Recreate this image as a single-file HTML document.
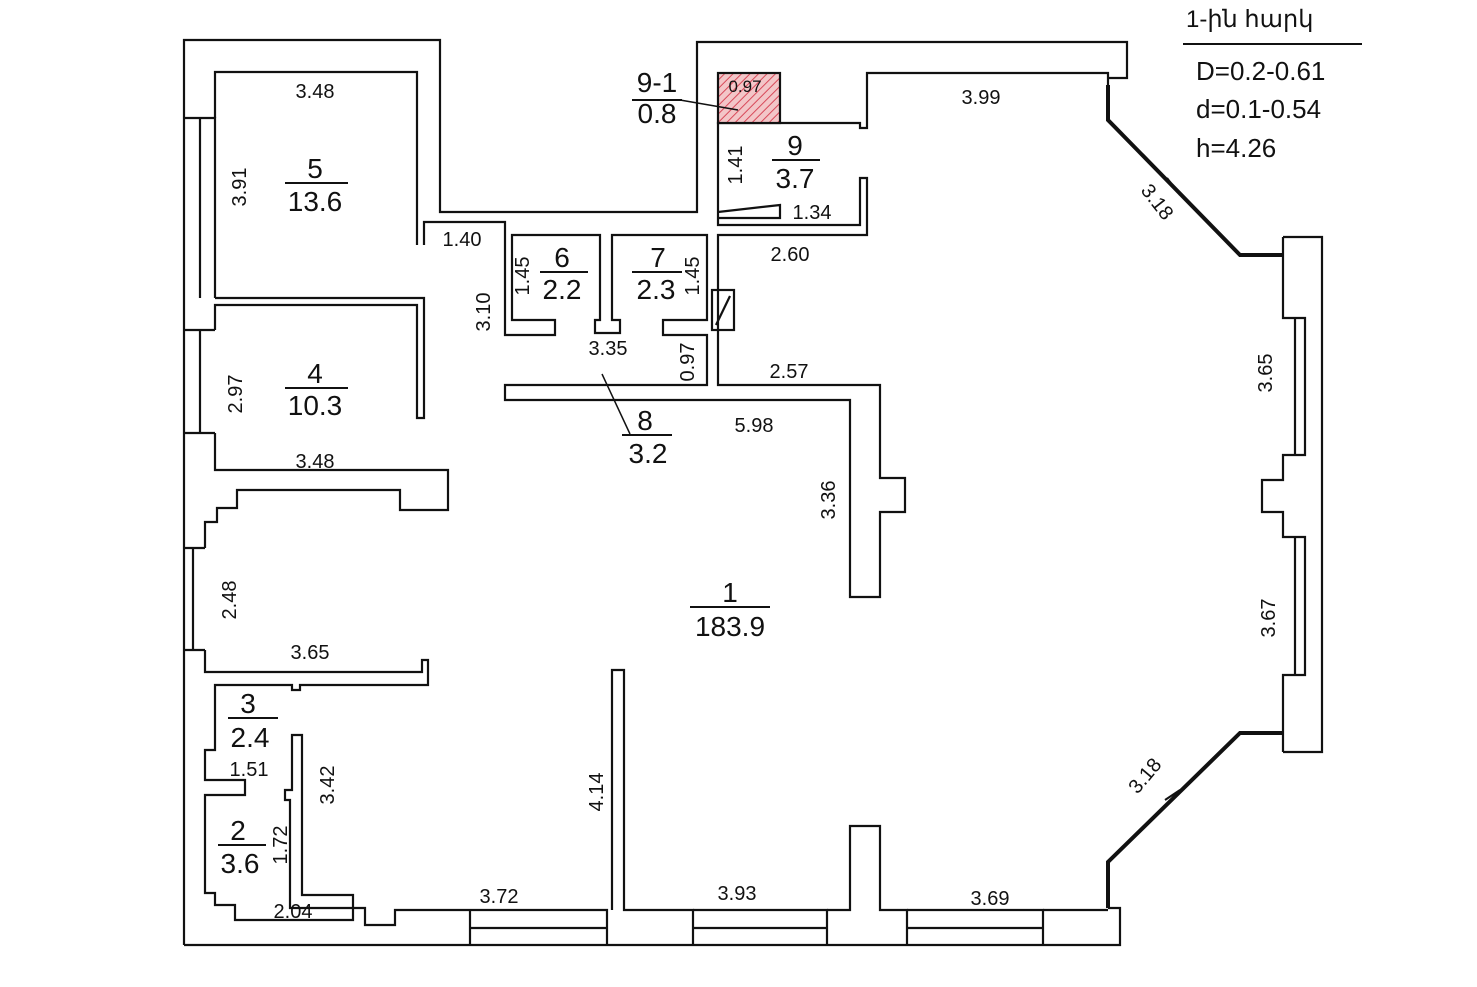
<!DOCTYPE html>
<html><head><meta charset="utf-8"><style>
html,body{margin:0;padding:0;background:#fff;}
svg{display:block}
text{font-family:"Liberation Sans",sans-serif;fill:#111}
</style></head><body>
<svg width="1477" height="987" viewBox="0 0 1477 987" xmlns="http://www.w3.org/2000/svg">
<defs><pattern id="h" width="6" height="6" patternUnits="userSpaceOnUse" patternTransform="rotate(45)"><rect width="6" height="6" fill="#f3c6c8"/><line x1="0" y1="0" x2="0" y2="6" stroke="#d84a5a" stroke-width="2"/></pattern></defs>
<g fill="none" stroke="#111" stroke-width="2.2">
<polyline points="184,945 184,40 440,40 440,212 697,212 697,42 1127,42 1127,78 1108,78"/>
<polyline points="184,945 1120,945 1120,908 1108,908"/>
<polyline points="1283,237 1322,237 1322,752 1283,752"/>
<polyline points="1283,237 1283,318 1305,318 1305,455 1283,455 1283,480 1262,480 1262,512 1283,512 1283,537 1305,537 1305,675 1283,675 1283,752"/>
<line x1="1295" y1="318" x2="1295" y2="455"/><line x1="1295" y1="537" x2="1295" y2="675"/>
<polyline points="215,118 215,72 417,72 417,245"/>
<polyline points="424,245 424,222 505,222 505,335 555,335 555,320 512,320 512,235 600,235 600,320 595,320 595,333 620,333 620,320 612,320 612,235 707,235 707,320 663,320 663,335 707,335 707,385 505,385 505,400 850,400 850,597 880,597 880,512 905,512 905,478 880,478 880,385 718,385 718,235 867,235 867,178 860,178 860,225 718,225 718,123 860,123 860,128 867,128 867,73 1108,73 1108,85"/>
<rect x="718" y="73" width="62" height="50" fill="url(#h)"/>
<polyline points="718,212 780,205 780,218 718,218"/>
<rect x="712" y="290" width="22" height="40"/><line x1="716" y1="325" x2="730" y2="296"/>
<polyline points="184,118 215,118 215,298"/>
<line x1="200" y1="118" x2="200" y2="298"/>
<polyline points="215,298 424,298 424,418 417,418 417,305 215,305 215,330"/>
<line x1="184" y1="330" x2="215" y2="330"/><line x1="200" y1="330" x2="200" y2="433"/><line x1="184" y1="433" x2="215" y2="433"/>
<polyline points="215,433 215,470 448,470 448,510 400,510 400,490 237,490 237,508 217,508 217,522 205,522 205,548"/>
<line x1="184" y1="548" x2="205" y2="548"/><line x1="193" y1="548" x2="193" y2="650"/><line x1="184" y1="650" x2="205" y2="650"/>
<polyline points="205,650 205,672 422,672 422,660 428,660 428,685 300,685 300,690 292,690 292,685 215,685 215,750 205,750 205,780 245,780 245,795 205,795 205,893 215,893 215,905 235,905 235,920 353,920 353,895 302,895 302,735 292,735 292,790 285,790 285,800 290,800 290,908 365,908 365,925 395,925 395,910 470,910"/>
<polyline points="470,910 607,910 607,945"/><polyline points="470,945 470,910"/><line x1="470" y1="928" x2="607" y2="928"/>
<polyline points="612,910 612,670 624,670 624,910 693,910 693,945"/>
<polyline points="693,910 827,910 827,945"/><line x1="693" y1="928" x2="827" y2="928"/>
<polyline points="827,910 850,910 850,826 880,826 880,910 907,910 907,945"/>
<polyline points="907,910 1043,910 1043,945"/><line x1="907" y1="928" x2="1043" y2="928"/>
<polyline points="1043,910 1108,910"/>
</g>
<g stroke="#111" stroke-width="4" fill="none">
<polyline points="1108,85 1108,120 1240,255 1283,255"/>
<polyline points="1108,908 1108,862 1240,733 1283,733"/>
</g>
<line x1="1167" y1="178" x2="1180" y2="195" stroke="#111" stroke-width="2"/>
<line x1="1165" y1="800" x2="1180" y2="790" stroke="#111" stroke-width="2"/>
<line x1="1183" y1="44" x2="1362" y2="44" stroke="#111" stroke-width="2"/>
<line x1="632" y1="100" x2="682" y2="100" stroke="#111" stroke-width="2"/>
<line x1="680" y1="100" x2="738" y2="110" stroke="#111" stroke-width="1.5"/>
<line x1="602" y1="374" x2="630" y2="434" stroke="#111" stroke-width="1.5"/>
<g font-size="24">
<text x="1186" y="27">1-ին հարկ</text>
<text x="1196" y="80" font-size="26">D=0.2-0.61</text>
<text x="1196" y="118" font-size="26">d=0.1-0.54</text>
<text x="1196" y="157" font-size="26">h=4.26</text>
</g>
<g font-size="28" text-anchor="middle">
<text x="315" y="178">5</text><line x1="285" y1="183" x2="348" y2="183" stroke="#111" stroke-width="2"/><text x="315" y="211">13.6</text>
<text x="315" y="383">4</text><line x1="285" y1="388" x2="348" y2="388" stroke="#111" stroke-width="2"/><text x="315" y="415">10.3</text>
<text x="562" y="267">6</text><line x1="540" y1="272" x2="588" y2="272" stroke="#111" stroke-width="2"/><text x="562" y="299">2.2</text>
<text x="658" y="267">7</text><line x1="632" y1="272" x2="682" y2="272" stroke="#111" stroke-width="2"/><text x="656" y="299">2.3</text>
<text x="657" y="92">9-1</text><text x="657" y="123">0.8</text>
<text x="795" y="155">9</text><line x1="772" y1="160" x2="820" y2="160" stroke="#111" stroke-width="2"/><text x="795" y="188">3.7</text>
<text x="645" y="430">8</text><line x1="622" y1="435" x2="672" y2="435" stroke="#111" stroke-width="2"/><text x="648" y="463">3.2</text>
<text x="730" y="602">1</text><line x1="690" y1="607" x2="770" y2="607" stroke="#111" stroke-width="2"/><text x="730" y="636">183.9</text>
<text x="248" y="713">3</text><line x1="228" y1="718" x2="278" y2="718" stroke="#111" stroke-width="2"/><text x="250" y="747">2.4</text>
<text x="238" y="840">2</text><line x1="218" y1="845" x2="266" y2="845" stroke="#111" stroke-width="2"/><text x="240" y="873">3.6</text>
</g>
<g font-size="20" text-anchor="middle">
<text x="315" y="98">3.48</text><text x="462" y="246">1.40</text><text x="812" y="219">1.34</text>
<text x="790" y="261">2.60</text><text x="608" y="355">3.35</text><text x="789" y="378">2.57</text>
<text x="754" y="432">5.98</text><text x="315" y="468">3.48</text><text x="310" y="659">3.65</text>
<text x="249" y="776">1.51</text><text x="293" y="918">2.04</text><text x="499" y="903">3.72</text>
<text x="737" y="900">3.93</text><text x="990" y="905">3.69</text><text x="981" y="104">3.99</text>
<text x="745" y="92" font-size="17">0.97</text>
<text transform="translate(246,187) rotate(-90)">3.91</text>
<text transform="translate(242,394) rotate(-90)">2.97</text>
<text transform="translate(236,600) rotate(-90)">2.48</text>
<text transform="translate(490,312) rotate(-90)">3.10</text>
<text transform="translate(529,276) rotate(-90)">1.45</text>
<text transform="translate(699,276) rotate(-90)">1.45</text>
<text transform="translate(742,165) rotate(-90)">1.41</text>
<text transform="translate(694,362) rotate(-90)">0.97</text>
<text transform="translate(835,500) rotate(-90)">3.36</text>
<text transform="translate(334,785) rotate(-90)">3.42</text>
<text transform="translate(287,845) rotate(-90)">1.72</text>
<text transform="translate(603,792) rotate(-90)">4.14</text>
<text transform="translate(1272,373) rotate(-90)">3.65</text>
<text transform="translate(1275,618) rotate(-90)">3.67</text>
<text transform="translate(1152,206) rotate(52)">3.18</text>
<text transform="translate(1150,780) rotate(-50)">3.18</text>
</g>
</svg>
</body></html>
